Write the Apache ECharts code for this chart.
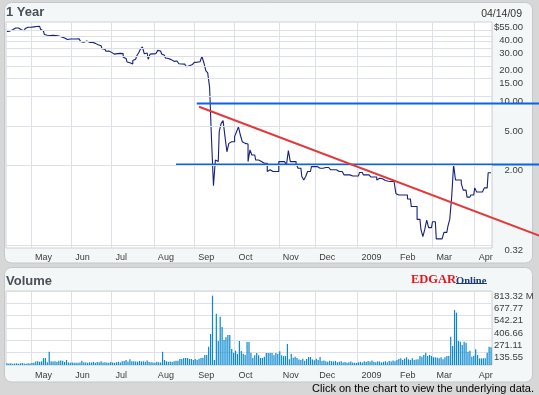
<!DOCTYPE html>
<html><head><meta charset="utf-8">
<script src="https://cdn.jsdelivr.net/npm/echarts@6/dist/echarts.min.js"></script>
<style>html,body{margin:0;padding:0;background:#d7d7d7;}#c{width:539px;height:395px;}</style>
</head><body><div id="c"></div>
<script>
// ---- data ----
const firstDay = '2008-04-14';
const lastDay = '2009-04-14';
const marketHolidays = ['2008-05-26','2008-07-04','2008-09-01','2008-11-27','2008-12-25','2009-01-01','2009-01-19','2009-02-16','2009-04-10'];
const monthNames = ['2009','Feb','Mar','Apr','May','Jun','Jul','Aug','Sep','Oct','Nov','Dec'];

// daily price (US$), one per trading day
const price = [
44.1,44.6,45.2,46.1,47.9,49.2,47.9,46.1,45.6,45.0,
47.4,48.8,48.8,49.0,49.2,49.5,50.3,49.7,46.5,44.7,
41.2,40.5,40.3,40.3,40.5,40.3,39.9,39.8,38.9,38.3,
38.0,36.7,36.9,37.2,37.2,37.4,37.1,37.3,36.2,34.9,
34.5,35.4,34.7,34.4,34.5,33.3,33.6,32.5,32.2,31.8,
29.7,29.4,28.0,28.2,27.3,26.4,26.2,26.5,26.1,26.7,
26.5,24.4,23.7,21.9,21.5,20.9,22.6,23.3,25.1,26.9,
29.5,30.9,26.4,26.9,23.3,26.2,26.4,26.5,26.9,28.6,
28.2,26.3,25.5,24.0,23.7,23.1,22.6,22.2,22.4,21.9,
21.0,20.9,20.8,20.2,19.6,20.1,20.6,21.1,21.7,21.8,
22.0,22.2,24.9,21.5,17.9,17.0,12.1,3.62,1.26,2.28,
2.20,4.38,5.32,5.65,3.91,2.76,3.35,3.48,3.48,3.91,
4.38,4.9,4.06,3.48,3.35,3.3,2.2,2.88,2.56,2.56,
2.28,2.28,2.2,2.2,2.12,2.12,1.75,1.82,1.75,1.75,
1.75,1.75,2.2,2.2,2.2,2.2,2.04,2.83,2.2,2.2,
2.2,2.1,1.89,1.89,1.56,1.44,1.56,1.75,1.75,1.96,
1.96,1.96,1.89,1.89,1.89,1.92,1.92,1.92,1.92,1.82,
1.82,1.82,1.75,1.75,1.75,1.75,1.62,1.62,1.62,1.58,
1.58,1.58,1.58,1.58,1.71,1.71,1.62,1.62,1.62,1.62,
1.54,1.54,1.54,1.44,1.5,1.48,1.45,1.42,1.4,1.38,
1.39,1.39,1.39,1.05,1.02,1.02,1.02,1.02,1.02,0.93,
0.93,0.78,0.78,0.78,0.58,0.58,0.46,0.39,0.46,0.57,
0.48,0.48,0.55,0.55,0.37,0.37,0.37,0.37,0.43,0.43,
0.49,0.58,0.97,2.04,1.44,1.44,1.44,1.33,1.14,1.14,
0.97,0.97,1.02,1.02,1.2,1.09,1.09,1.09,1.09,1.2,
1.2,1.7,1.7
];

// daily volume (millions)
const volume = [
18,16,20,15,17,19,14,18,21,16,
15,20,17,22,25,38,42,35,40,75,
78,30,145,42,38,40,36,48,50,46,
33,55,28,25,27,24,26,25,28,48,
30,28,26,30,27,35,25,33,30,40,
28,30,28,26,32,27,24,30,35,28,
40,45,55,38,62,40,42,38,36,44,
38,40,35,50,34,30,28,25,35,30,
28,145,55,40,35,38,32,42,48,46,
66,66,77,77,77,66,66,55,66,55,
70,77,77,110,110,201,341,762,55,564,
264,531,418,275,304,330,330,176,135,157,
121,264,154,124,110,253,253,135,77,106,
132,106,77,77,91,132,132,132,132,106,
132,121,150,106,98,98,231,62,121,81,
91,77,60,55,70,48,65,88,88,60,
52,70,55,88,45,50,40,35,48,42,
38,45,30,35,40,28,33,25,30,38,
28,25,22,30,35,28,40,32,45,38,
50,35,30,42,38,28,35,40,30,45,
38,50,42,55,65,73,55,70,85,62,
55,73,55,60,62,99,92,110,135,99,
110,99,85,85,80,73,85,62,85,99,
99,311,209,604,575,264,256,220,256,245,
146,157,92,99,172,110,73,73,73,73,
135,201,194
];

const priceLabelValues = [55, 40, 30, 20, 15, 10, 5, 2, 0.32];
const priceGridValues = [45, 40, 35, 30, 25, 20, 15, 10, 5, 2, 0.32];
const priceMin = 0.3, priceMax = 55;
const volumeMax = 813.32;
const volumeSteps = 6;

// drawn trend lines: [startDayIndex, startPrice, endDayIndex, endPrice]
const lineUpper = [98.8, 8.4, 290, 8.4];
const lineLower = [88.0, 2.06, 290, 2.06];
const lineTrend = [100.0, 7.8, 277, 0.40];

// ---- build ----
const hol = new Set(marketHolidays);
const dates = [];
(function () {
  let d = new Date(firstDay + 'T00:00:00Z');
  const end = new Date(lastDay + 'T00:00:00Z');
  while (d <= end) {
    const s = d.toISOString().slice(0, 10);
    const wd = d.getUTCDay();
    if (wd !== 0 && wd !== 6 && !hol.has(s)) dates.push(s);
    d = new Date(d.getTime() + 86400000);
  }
})();
const isMonthStart = dates.map((s, i) => i > 0 && s.slice(5, 7) !== dates[i - 1].slice(5, 7));
const monthLabel = s => monthNames[(+s.slice(5, 7) - 1)];

const FONT = '"Liberation Sans", Arial, sans-serif';
const gridColor = '#dde1e7';
const PLOT_W = 486, FULL_W = 533;

function catAxis(gi) {
  return {
    type: 'category', gridIndex: gi, data: dates, boundaryGap: true,
    axisLine: { show: false }, axisTick: { show: false },
    axisLabel: {
      interval: (i) => isMonthStart[i], formatter: (v) => monthLabel(v),
      align: 'left', padding: [0, 0, 0, 3], margin: gi === 0 ? 5 : 6, fontSize: 9, color: '#3c3c3c', fontFamily: FONT
    },
    splitLine: { show: true, interval: (i) => isMonthStart[i], lineStyle: { color: gridColor, width: 1 } }
  };
}

const chart = echarts.init(document.getElementById('c'), null, { renderer: 'canvas' });
const option = {
  animation: false,
  backgroundColor: '#d7d7d7',
  grid: [
    { left: 6, top: 22, width: PLOT_W, height: 226, show: true, backgroundColor: '#ffffff', borderColor: '#cdd2d8', borderWidth: 1 },
    { left: 6, top: 291, width: PLOT_W, height: 74, show: true, backgroundColor: '#ffffff', borderColor: '#cdd2d8', borderWidth: 1 },
    { left: 6, top: 22, width: FULL_W, height: 226, show: false }
  ],
  xAxis: [
    catAxis(0),
    catAxis(1),
    { type: 'value', gridIndex: 2, min: -0.5, max: dates.length * FULL_W / PLOT_W - 0.5, show: false }
  ],
  yAxis: [
    {
      type: 'log', gridIndex: 0, position: 'right', min: priceMin, max: priceMax, logBase: 10,
      axisLine: { show: false },
      axisTick: { show: false },
      axisLabel: {
        customValues: priceLabelValues,
        formatter: (v) => (Math.abs(v - 55) < 0.01 ? '$' : '') + Number(v).toFixed(2),
        align: 'right', margin: 31, verticalAlign: 'top', fontSize: 9.5, color: '#3c3c3c', fontFamily: FONT
      },
      splitLine: { show: false }
    },
    {
      type: 'value', gridIndex: 1, position: 'right', min: 0, max: volumeMax, interval: volumeMax / volumeSteps,
      axisLine: { show: false }, axisTick: { show: false },
      axisLabel: {
        formatter: (v) => v < 1 ? '' : (v > volumeMax - 1 ? v.toFixed(2) + ' M' : v.toFixed(2)),
        align: 'left', margin: 2, verticalAlign: 'top', fontSize: 9.5, color: '#3c3c3c', fontFamily: FONT
      },
      splitLine: { show: true, lineStyle: { color: gridColor, width: 1 } }
    },
    { type: 'log', gridIndex: 2, min: priceMin, max: priceMax, logBase: 10, show: false }
  ],
  series: [
    { type: 'line', xAxisIndex: 0, yAxisIndex: 0, data: [], symbol: 'none', silent: true, z: 1,
      markLine: { silent: true, symbol: 'none', label: { show: false }, animation: false,
        lineStyle: { color: gridColor, width: 1, type: 'solid' },
        data: priceGridValues.map(v => ({ yAxis: v })) } },
    { type: 'line', xAxisIndex: 0, yAxisIndex: 0, data: price, step: 'middle', symbol: 'none',
      lineStyle: { color: '#15217c', width: 1.1 }, z: 2, silent: true },
    { type: 'bar', xAxisIndex: 1, yAxisIndex: 1, data: volume, barWidth: 1.2,
      itemStyle: { color: '#0a88cf' }, silent: true },
    { type: 'line', xAxisIndex: 2, yAxisIndex: 2, symbol: 'none', silent: true, z: 4,
      data: [[lineUpper[0], lineUpper[1]], [lineUpper[2], lineUpper[3]]], lineStyle: { color: '#0b63e5', width: 2 } },
    { type: 'line', xAxisIndex: 2, yAxisIndex: 2, symbol: 'none', silent: true, z: 4,
      data: [[lineLower[0], lineLower[1]], [lineLower[2], lineLower[3]]], lineStyle: { color: '#0b63e5', width: 2 } },
    { type: 'line', xAxisIndex: 2, yAxisIndex: 2, symbol: 'none', silent: true, z: 5,
      data: [[lineTrend[0], lineTrend[1]], [lineTrend[2], lineTrend[3]]], lineStyle: { color: '#e23a3a', width: 2 } }
  ],
  graphic: {
    elements: [
      { type: 'rect', z: -100, silent: true, shape: { x: 4.5, y: 2.5, width: 528, height: 260.5, r: 7 },
        style: { fill: '#f4f7f7', stroke: '#c3c8ce', lineWidth: 1 } },
      { type: 'rect', z: -100, silent: true, shape: { x: 4.5, y: 267.5, width: 528, height: 114.5, r: 7 },
        style: { fill: '#f4f7f7', stroke: '#c3c8ce', lineWidth: 1 } },
      { type: 'text', silent: true, left: 6, top: 6,
        style: { text: '1 Year', font: 'bold 13px ' + FONT, fill: '#4a4f58' } },
      { type: 'text', silent: true, right: 17, top: 9,
        style: { text: '04/14/09', font: '10.5px ' + FONT, fill: '#333333' } },
      { type: 'text', silent: true, left: 6, top: 274.5,
        style: { text: 'Volume', font: 'bold 13px ' + FONT, fill: '#4a4f58' } },
      { type: 'text', silent: true, left: 411, top: 273,
        style: { text: 'EDGAR', font: 'bold 12.5px "Liberation Serif", "DejaVu Serif", serif', fill: '#e8141c' } },
      { type: 'text', silent: true, left: 455, top: 272,
        style: { text: '\u00b7', font: 'bold 9px serif', fill: '#e8141c' } },
      { type: 'text', silent: true, left: 456, top: 275.5,
        style: { text: 'Online', font: 'bold 10.5px "Liberation Serif", "DejaVu Serif", serif', fill: '#1b3a7a' } },
      { type: 'line', silent: true, shape: { x1: 456, y1: 283.5, x2: 487, y2: 283.5 },
        style: { stroke: '#1b3a7a', lineWidth: 1 } },
      { type: 'text', silent: true, right: 5, top: 383,
        style: { text: 'Click on the chart to view the underlying data.', font: '11px ' + FONT, fill: '#000000' } }
    ]
  }
};
chart.setOption(option);
</script>
</body></html>
